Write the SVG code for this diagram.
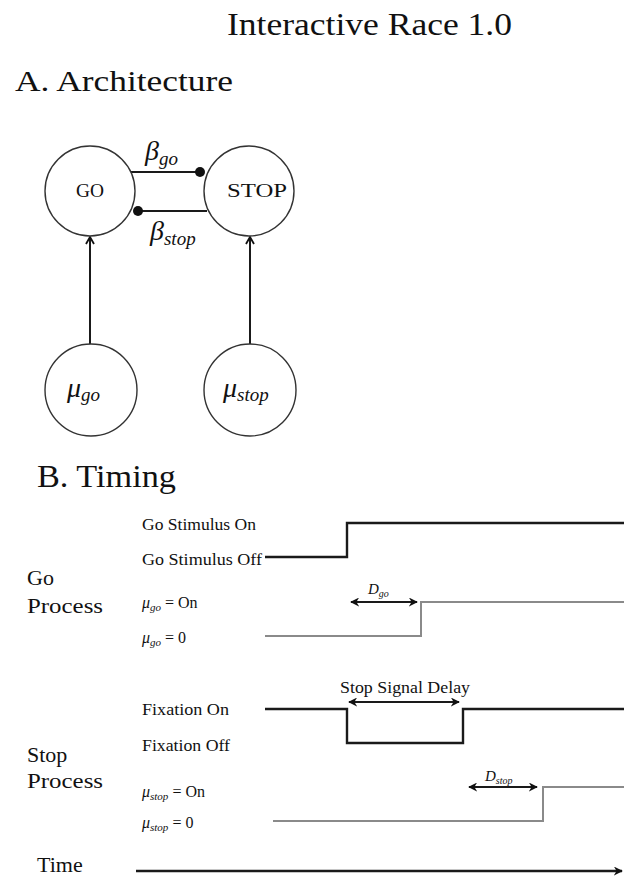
<svg xmlns="http://www.w3.org/2000/svg" width="627" height="878" viewBox="0 0 627 878">
<style>
.t{font-family:"Liberation Serif","DejaVu Serif",serif;fill:#111}
.i{font-style:italic}
.node circle{fill:#fff;stroke:#333;stroke-width:1.4}
.blk{stroke:#1a1a1a;stroke-width:2.4;fill:none}
.gry{stroke:#8a8a8a;stroke-width:2;fill:none}
.conn{stroke:#1a1a1a;stroke-width:2;fill:none}
</style>
<defs>
<marker id="ah" viewBox="0 0 10 10" refX="9" refY="5" markerWidth="9" markerHeight="9" markerUnits="userSpaceOnUse" orient="auto-start-reverse"><path d="M0,0 L10,5 L0,10 L3,5 z" fill="#111"/></marker>
<marker id="open" viewBox="0 0 10 10" refX="9" refY="5" markerWidth="10" markerHeight="10" markerUnits="userSpaceOnUse" orient="auto"><path d="M2,1 L9,5 L2,9" fill="none" stroke="#111" stroke-width="1.8"/></marker>
</defs>
<rect width="627" height="878" fill="#fff"/>
<text class="t" x="227" y="35" font-size="32" textLength="285" lengthAdjust="spacingAndGlyphs">Interactive Race 1.0</text>
<text class="t" x="15" y="91" font-size="30" textLength="218" lengthAdjust="spacingAndGlyphs">A. Architecture</text>

<g id="connectors">
<line class="conn" x1="131" y1="172" x2="200" y2="172"/>
<circle cx="200" cy="172" r="5" fill="#111"/>
<line class="conn" x1="138" y1="211" x2="207" y2="211"/>
<circle cx="138" cy="211" r="5" fill="#111"/>
<line class="conn" x1="90" y1="344" x2="90" y2="237" marker-end="url(#open)"/>
<line class="conn" x1="250" y1="344" x2="250" y2="237" marker-end="url(#open)"/>
<text class="t i" x="145" y="160" font-size="28">β<tspan font-size="19" dy="5">go</tspan></text>
<text class="t i" x="150" y="240" font-size="28">β<tspan font-size="19" dy="5">stop</tspan></text>
</g>

<g id="go" class="node"><circle cx="90" cy="191" r="45"/><text class="t" x="76" y="197" font-size="18" textLength="28" lengthAdjust="spacingAndGlyphs">GO</text></g>
<g id="stop" class="node"><circle cx="249" cy="191" r="45"/><text class="t" x="227" y="197" font-size="18" textLength="60" lengthAdjust="spacingAndGlyphs">STOP</text></g>
<g id="mugo" class="node"><circle cx="91" cy="390" r="46"/><text class="t i" x="67" y="397" font-size="28">μ<tspan font-size="19" dy="4">go</tspan></text></g>
<g id="mustop" class="node"><circle cx="250" cy="390" r="46"/><text class="t i" x="223" y="397" font-size="28">μ<tspan font-size="19" dy="4">stop</tspan></text></g>

<text class="t" x="37" y="487" font-size="32" textLength="139" lengthAdjust="spacingAndGlyphs">B. Timing</text>

<g id="timing">
<text class="t" x="142" y="530" font-size="16" textLength="114" lengthAdjust="spacingAndGlyphs">Go Stimulus On</text>
<text class="t" x="142" y="565" font-size="16" textLength="120" lengthAdjust="spacingAndGlyphs">Go Stimulus  Off</text>
<path class="blk" d="M265,557 H347 V523 H624"/>
<text class="t" x="27" y="585" font-size="22">Go</text>
<text class="t" x="27" y="613" font-size="22" textLength="76" lengthAdjust="spacingAndGlyphs">Process</text>
<text class="t" x="142" y="608" font-size="16"><tspan class="i">μ</tspan><tspan class="i" font-size="11" dy="3">go</tspan><tspan dy="-3"> = On</tspan></text>
<text class="t" x="142" y="643" font-size="16"><tspan class="i">μ</tspan><tspan class="i" font-size="11" dy="3">go</tspan><tspan dy="-3"> = 0</tspan></text>
<path class="gry" d="M265,636 H421 V602 H624"/>
<line class="conn" x1="351" y1="602" x2="417" y2="602" marker-start="url(#ah)" marker-end="url(#ah)"/>
<text class="t i" x="368" y="594" font-size="15">D<tspan font-size="10" dy="3">go</tspan></text>

<text class="t" x="340" y="693" font-size="16" textLength="130" lengthAdjust="spacingAndGlyphs">Stop Signal Delay</text>
<line class="conn" x1="349" y1="702" x2="459" y2="702" marker-start="url(#ah)" marker-end="url(#ah)"/>
<text class="t" x="142" y="715" font-size="16" textLength="87" lengthAdjust="spacingAndGlyphs">Fixation On</text>
<text class="t" x="142" y="751" font-size="16" textLength="88" lengthAdjust="spacingAndGlyphs">Fixation Off</text>
<path class="blk" d="M265,709 H347 V743 H463 V709 H624"/>
<text class="t" x="27" y="762" font-size="22">Stop</text>
<text class="t" x="27" y="788" font-size="22" textLength="76" lengthAdjust="spacingAndGlyphs">Process</text>
<text class="t" x="142" y="797" font-size="16"><tspan class="i">μ</tspan><tspan class="i" font-size="11" dy="3">stop</tspan><tspan dy="-3"> = On</tspan></text>
<text class="t" x="142" y="828" font-size="16"><tspan class="i">μ</tspan><tspan class="i" font-size="11" dy="3">stop</tspan><tspan dy="-3"> = 0</tspan></text>
<path class="gry" d="M273,821 H543 V787 H624"/>
<line class="conn" x1="469" y1="787" x2="537" y2="787" marker-start="url(#ah)" marker-end="url(#ah)"/>
<text class="t i" x="485" y="781" font-size="15">D<tspan font-size="10" dy="3">stop</tspan></text>

<text class="t" x="37" y="872" font-size="22">Time</text>
<line class="blk" x1="136" y1="871" x2="622" y2="871" marker-end="url(#ah)"/>
</g>
</svg>
